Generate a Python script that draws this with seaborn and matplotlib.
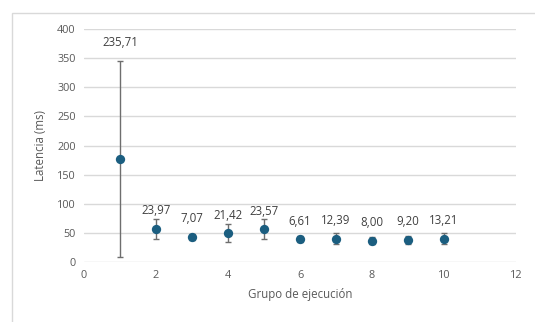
import matplotlib
matplotlib.use("Agg")
import matplotlib.pyplot as plt
from matplotlib.patches import Rectangle
import pandas as pd
import seaborn as sns

# --- Data ---
grupos = [1, 2, 3, 4, 5, 6, 7, 8, 9, 10]
latencia_media = [177, 57, 43, 49, 56, 39, 40, 36, 38, 40]
error_barra = [169, 17, 5, 15.5, 17, 4.8, 8.8, 5.8, 6.6, 9.4]
etiquetas = ["235,71", "23,97", "7,07", "21,42", "23,57", "6,61", "12,39", "8,00", "9,20", "13,21"]

PUNTO = "#1b5e80"
GRIS_TEXTO = "#595959"

df = pd.DataFrame({"grupo": grupos, "latencia": latencia_media, "err": error_barra})

sns.set_style("white")
plt.rcParams["font.family"] = ["Open Sans", "DejaVu Sans"]

fig = plt.figure(figsize=(5.35, 3.22), dpi=100)
ax = fig.add_axes([0.157, 0.187, 0.8075, 0.722])

# light chart-area border like the Excel frame
fig.patches.append(Rectangle((12 / 535, -0.1), 1.2, (322 - 13) / 322 + 0.1,
                             transform=fig.transFigure, fill=False,
                             edgecolor="#d9d9d9", linewidth=1.0))

ax.errorbar(df["grupo"], df["latencia"], yerr=df["err"], fmt="none",
            ecolor="#6e6e6e", elinewidth=1.0, capsize=2.3, capthick=1.0, zorder=2)
sns.scatterplot(data=df, x="grupo", y="latencia", color=PUNTO, s=45,
                edgecolor=PUNTO, linewidth=0, ax=ax, zorder=3)

# data labels: above the point, or above the error bar for the first group
for i, row in df.iterrows():
    anchor = row["latencia"] + row["err"] if i == 0 else row["latencia"]
    ax.annotate(etiquetas[i], (row["grupo"], anchor), xytext=(0, 13),
                textcoords="offset points", ha="center", va="center",
                fontsize=8.3, color="#404040")

ax.set_xlim(0, 12)
ax.set_ylim(0, 400)
ax.set_xticks(range(0, 13, 2))
ax.set_yticks(range(0, 401, 50))
ax.grid(axis="y", color="#d9d9d9", linewidth=1.0)
ax.grid(axis="x", visible=False)
ax.set_axisbelow(True)
for s in ax.spines.values():
    s.set_visible(False)
ax.tick_params(axis="both", length=0, labelsize=7.8, labelcolor=GRIS_TEXTO, pad=6)
ax.set_xlabel("Grupo de ejecución", fontsize=8.3, color=GRIS_TEXTO, labelpad=5)
ax.set_ylabel("Latencia (ms)", fontsize=8.3, color=GRIS_TEXTO, labelpad=7)

fig.savefig("out.png", dpi=100)
